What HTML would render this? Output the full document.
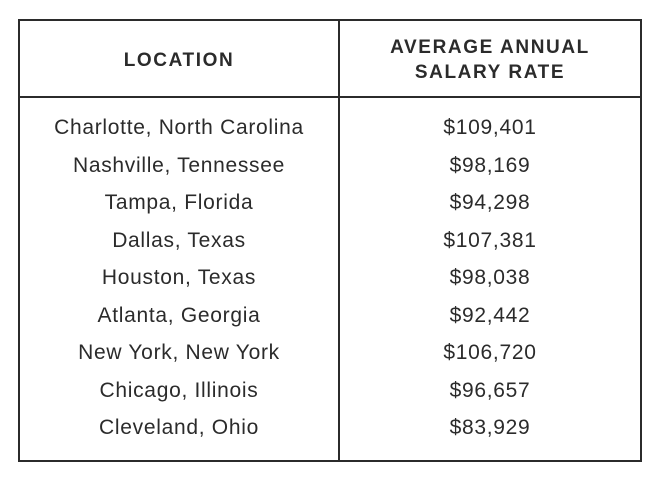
<!DOCTYPE html>
<html><head><meta charset="utf-8"><style>
body{margin:0;width:661px;height:487px;background:#fff;position:relative;font-family:"Liberation Sans",sans-serif;color:#2b2b2b;overflow:hidden}
.line{position:absolute;background:#2b2b2b}
.t{position:absolute;text-align:center;white-space:nowrap}
.h{font-weight:bold;font-size:19px;letter-spacing:1.6px;line-height:25px}
.c{font-size:21px;letter-spacing:0.7px;line-height:24px}
</style></head><body>
<div class="line" style="left:18px;top:19px;width:624px;height:2px"></div>
<div class="line" style="left:18px;top:460px;width:624px;height:2px"></div>
<div class="line" style="left:18px;top:19px;width:2px;height:443px"></div>
<div class="line" style="left:640px;top:19px;width:2px;height:443px"></div>
<div class="line" style="left:338px;top:19px;width:2px;height:443px"></div>
<div class="line" style="left:18px;top:96px;width:624px;height:2px"></div>
<div class="t h" style="left:20px;width:318px;top:48px">LOCATION</div>
<div class="t h" style="left:340px;width:300px;top:35px">AVERAGE ANNUAL<br>SALARY RATE</div>
<div id="rows"></div>
<script>
const locations=["Charlotte, North Carolina","Nashville, Tennessee","Tampa, Florida","Dallas, Texas","Houston, Texas","Atlanta, Georgia","New York, New York","Chicago, Illinois","Cleveland, Ohio"];
const salaries=["$109,401","$98,169","$94,298","$107,381","$98,038","$92,442","$106,720","$96,657","$83,929"];
const rows=document.getElementById('rows');
locations.forEach((loc,i)=>{
  const y=128+i*37.5-12;
  const a=document.createElement('div');
  a.className='t c';
  
  
  a.style.cssText='left:20px;width:318px;top:'+y+'px';
  a.textContent=loc;rows.appendChild(a);
  const b=document.createElement('div');
  b.className='t c';
  
  
  b.style.cssText='left:340px;width:300px;top:'+y+'px';
  b.textContent=salaries[i];rows.appendChild(b);
});
</script>
</body></html>
